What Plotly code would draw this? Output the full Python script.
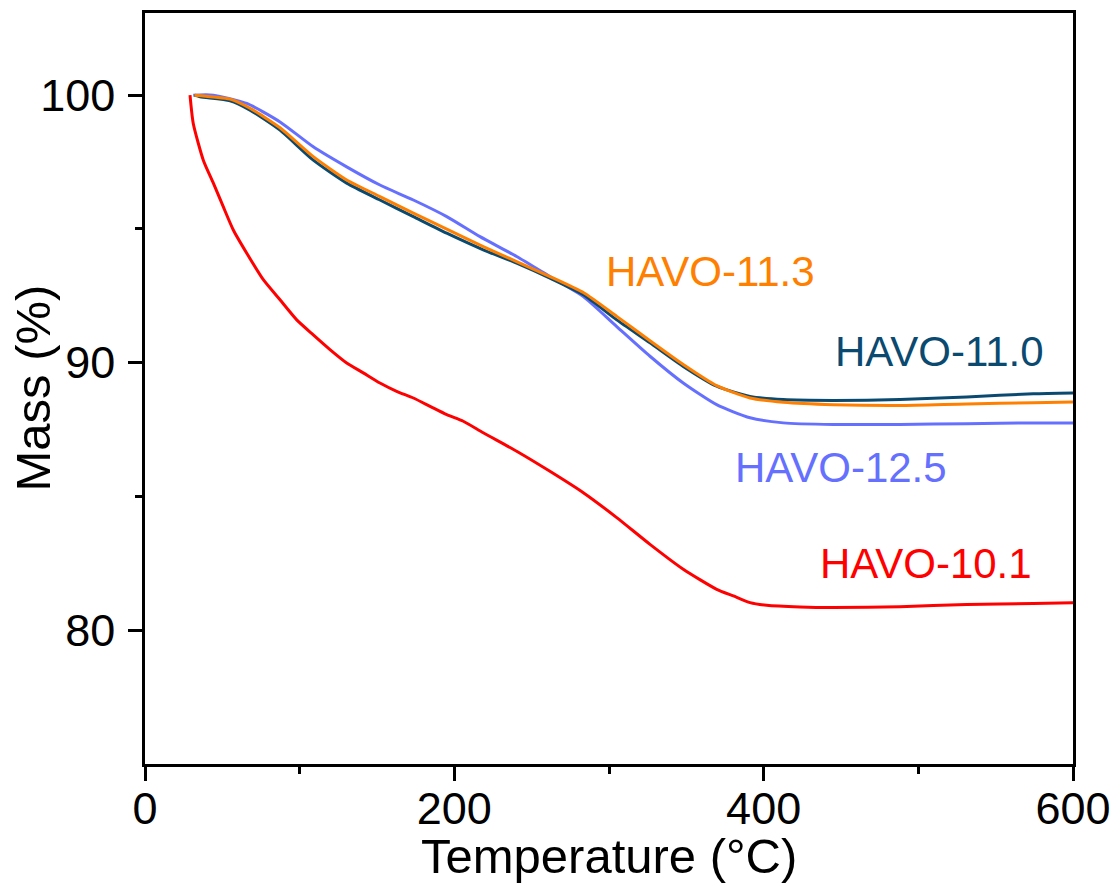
import plotly.graph_objects as go

# HAVO-10.1 (red)
t_101 = [29.1, 31.2, 37.7, 44.2, 50.6, 57.1, 65.8, 76.5, 87.3, 98.1, 108.8, 119.6, 130.4, 141.1,
         151.9, 162.7, 173.5, 184.3, 195.1, 205.8, 218.7, 240.3, 261.8, 283.4, 305.0, 326.5,
         348.0, 369.6, 380.4, 391.2, 402.0, 423.5, 445.0, 488.1, 531.3, 574.3, 600.0]
m_101 = [100.0, 98.94, 97.57, 96.71, 95.83, 94.96, 94.09, 93.10, 92.35, 91.60, 91.04, 90.49, 89.99,
         89.62, 89.24, 88.93, 88.68, 88.37, 88.06, 87.81, 87.38, 86.69, 85.94, 85.14, 84.21, 83.21,
         82.28, 81.53, 81.28, 81.03, 80.93, 80.87, 80.85, 80.88, 80.96, 81.00, 81.03]

# HAVO-11.0 (navy)
t_110 = [32.0, 35.6, 55.0, 67.9, 87.3, 108.8, 130.4, 151.9, 173.5, 195.1, 218.7, 240.3, 261.8,
         283.4, 305.0, 326.5, 348.0, 369.6, 391.2, 412.7, 445.0, 488.1, 531.3, 574.3, 600.0]
m_110 = [100.0, 99.94, 99.79, 99.44, 98.69, 97.57, 96.71, 96.08, 95.46, 94.84, 94.22, 93.72, 93.16,
         92.54, 91.60, 90.74, 89.86, 89.12, 88.74, 88.62, 88.59, 88.62, 88.72, 88.84, 88.87]

# HAVO-11.3 (orange)
t_113 = [32.0, 55.0, 67.9, 87.3, 108.8, 130.4, 151.9, 173.5, 195.1, 218.7, 240.3, 261.8, 283.4,
         305.0, 326.5, 348.0, 369.6, 391.2, 412.7, 445.0, 488.1, 531.3, 574.3, 600.0]
m_113 = [100.0, 99.85, 99.51, 98.78, 97.70, 96.83, 96.21, 95.59, 94.99, 94.34, 93.78, 93.22, 92.62,
         91.73, 90.82, 89.93, 89.14, 88.68, 88.52, 88.43, 88.40, 88.46, 88.50, 88.53]

# HAVO-12.5 (light blue)
t_125 = [31.2, 44.2, 65.8, 87.3, 108.8, 130.4, 151.9, 173.5, 195.1, 216.6, 240.3, 261.8, 283.4,
         305.0, 326.5, 348.0, 369.6, 391.2, 412.7, 445.0, 488.1, 531.3, 574.3, 600.0]
m_125 = [100.0, 100.0, 99.69, 99.00, 98.07, 97.32, 96.64, 96.08, 95.46, 94.71, 93.97, 93.22, 92.47,
         91.35, 90.24, 89.24, 88.43, 87.94, 87.75, 87.69, 87.69, 87.72, 87.75, 87.75]

series = [
    ("HAVO-12.5", t_125, m_125, "#6670ff"),
    ("HAVO-11.0", t_110, m_110, "#0b4a70"),
    ("HAVO-11.3", t_113, m_113, "#ff8000"),
    ("HAVO-10.1", t_101, m_101, "#ff0000"),
]

# label positions (left anchor x, y)
labels = {
    "HAVO-11.3": (297, 93.42),
    "HAVO-11.0": (445, 90.4),
    "HAVO-12.5": (380, 86.1),
    "HAVO-10.1": (435, 82.5),
}

FONT = "Arial, Liberation Sans, sans-serif"

fig = go.Figure()
for name, t, m, c in series:
    fig.add_trace(go.Scatter(x=t, y=m, mode="lines", name=name,
                             line=dict(color=c, width=3, shape="spline", smoothing=0.6)))

for name, t, m, c in series:
    lx, ly = labels[name]
    fig.add_annotation(x=lx, y=ly, xref="x", yref="y", text=name, showarrow=False,
                       xanchor="left", yanchor="middle",
                       font=dict(family=FONT, size=42, color=c))

fig.update_layout(
    width=1117, height=884,
    margin=dict(l=145, r=44, t=13, b=120),
    paper_bgcolor="white", plot_bgcolor="white",
    showlegend=False,
    font=dict(family=FONT, color="black"),
)

fig.update_xaxes(
    range=[0, 600], tickvals=[0, 200, 400, 600], ticks="outside", ticklen=14, tickwidth=2.5,
    tickcolor="black", showline=True, linecolor="black", linewidth=2.5, mirror=True,
    showgrid=False, zeroline=False, tickfont=dict(size=45, family=FONT),
    automargin=False, ticklabelstandoff=-11,
    minor=dict(tickvals=[100, 300, 500], ticks="outside", ticklen=7, tickwidth=2.5, tickcolor="black"),
)
fig.update_yaxes(
    range=[75, 103.07], tickvals=[80, 90, 100], ticks="outside", ticklen=14, tickwidth=2.5,
    tickcolor="black", showline=True, linecolor="black", linewidth=2.5, mirror=True,
    showgrid=False, zeroline=False, tickfont=dict(size=45, family=FONT),
    automargin=False, ticklabelstandoff=4,
    minor=dict(tickvals=[85, 95], ticks="outside", ticklen=7, tickwidth=2.5, tickcolor="black"),
)

fig.add_annotation(x=0.5, y=-0.123, xref="paper", yref="paper", text="Temperature (°C)",
                   showarrow=False, xanchor="center", yanchor="middle",
                   font=dict(family=FONT, size=49, color="black"))
fig.add_annotation(x=-0.121, y=0.501, xref="paper", yref="paper", text="Mass (%)",
                   showarrow=False, textangle=-90, xanchor="center", yanchor="middle",
                   font=dict(family=FONT, size=49, color="black"))

fig.write_html("out.html")
